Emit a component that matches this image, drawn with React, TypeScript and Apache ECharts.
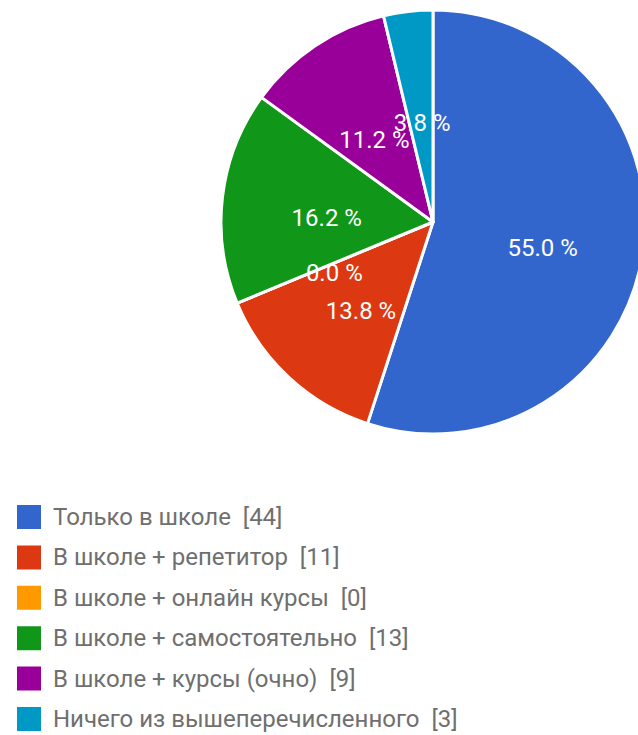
import React, { useEffect, useRef } from "react";
import * as echarts from "echarts";

const categories = [
  "Только в школе",
  "В школе + репетитор",
  "В школе + онлайн курсы",
  "В школе + самостоятельно",
  "В школе + курсы (очно)",
  "Ничего из вышеперечисленного",
];
const counts = [44, 11, 0, 13, 9, 3];
const colors = ["#3366cc", "#dc3912", "#ff9900", "#109618", "#990099", "#0099c6"];

function pctLabel(value: number, total: number): string {
  // tenths of a percent, rounded half to even
  const x = (value * 1000) / total;
  const f = Math.floor(x);
  const diff = x - f;
  let n = f;
  if (diff > 0.5 + 1e-9) n = f + 1;
  else if (Math.abs(diff - 0.5) < 1e-9) n = f % 2 === 0 ? f : f + 1;
  return `${(n / 10).toFixed(1)} %`;
}

export default function App() {
  const ref = useRef<HTMLDivElement>(null);
  useEffect(() => {
    if (!ref.current) return;
    const chart = echarts.init(ref.current, undefined, { renderer: "svg" });
    const total = counts.reduce((a, b) => a + b, 0);
    const data = categories.map((name, i) => ({
      name,
      value: counts[i],
      itemStyle: { color: colors[i] },
    }));
    chart.setOption({
      animation: false,
      backgroundColor: "#ffffff",
      legend: {
        orient: "vertical",
        left: 15,
        top: 503,
        padding: 0,
        itemWidth: 26,
        itemHeight: 26,
        itemGap: 12.4,
        icon: "rect",
        data: categories,
        formatter: (name: string) => {
          const i = categories.indexOf(name);
          return `${name}  [${counts[i]}]`;
        },
        textStyle: {
          fontFamily: "Roboto",
          fontSize: 24,
          lineHeight: 26,
          color: "#6f6f6f",
          padding: [0, 0, 0, 6],
        },
      },
      series: [
        {
          type: "pie",
          center: [433, 222],
          radius: 212,
          startAngle: 90,
          clockwise: true,
          minShowLabelAngle: 0,
          avoidLabelOverlap: false,
          labelLayout: { hideOverlap: false },
          data,
          itemStyle: { borderColor: "#ffffff", borderWidth: 3 },
          label: {
            show: true,
            position: "inside",
            fontFamily: "Roboto",
            fontSize: 24,
            color: "#ffffff",
            textBorderWidth: 0,
            offset: [2, 9],
            formatter: (p: any) => pctLabel(p.value, total),
          },
          labelLine: { show: false },
          emphasis: { disabled: true },
        },
      ],
    });
    return () => chart.dispose();
  }, []);
  return (
    <div
      ref={ref}
      style={{ position: "fixed", left: 0, top: 0, width: 638, height: 735 }}
    />
  );
}
